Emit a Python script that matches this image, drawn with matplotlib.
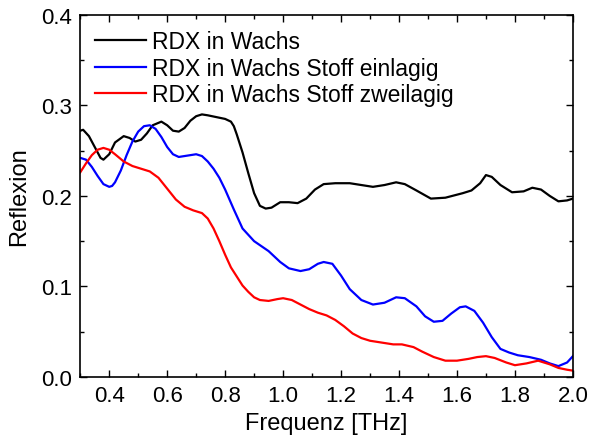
import matplotlib
matplotlib.use('Agg')
import matplotlib.pyplot as plt
from matplotlib.ticker import MultipleLocator, FormatStrFormatter

plt.rcParams['font.family'] = ['Liberation Sans', 'DejaVu Sans']

# reflection spectra, frequency in THz
freq_wachs = [0.30, 0.31, 0.33, 0.35, 0.37, 0.38, 0.40, 0.42, 0.45, 0.47, 0.49, 0.51, 0.53,
              0.55, 0.58, 0.60, 0.62, 0.64, 0.66, 0.68, 0.70, 0.72, 0.74, 0.77, 0.80, 0.82,
              0.83, 0.84, 0.86, 0.88, 0.90, 0.92, 0.94, 0.96, 0.99, 1.02, 1.05, 1.08, 1.11,
              1.14, 1.18, 1.23, 1.27, 1.31, 1.35, 1.39, 1.42, 1.46, 1.51, 1.56, 1.62, 1.65,
              1.68, 1.70, 1.72, 1.75, 1.79, 1.83, 1.86, 1.89, 1.92, 1.95, 1.98, 2.00]
refl_wachs = [0.272, 0.273, 0.266, 0.254, 0.242, 0.240, 0.246, 0.259, 0.266, 0.264, 0.260,
              0.262, 0.269, 0.278, 0.282, 0.278, 0.272, 0.271, 0.275, 0.283, 0.288, 0.290,
              0.289, 0.287, 0.285, 0.282, 0.277, 0.268, 0.248, 0.225, 0.203, 0.189, 0.186,
              0.187, 0.193, 0.193, 0.192, 0.197, 0.207, 0.213, 0.214, 0.214, 0.212, 0.210,
              0.212, 0.215, 0.213, 0.206, 0.197, 0.198, 0.203, 0.206, 0.214, 0.223, 0.221,
              0.212, 0.204, 0.205, 0.209, 0.207, 0.200, 0.194, 0.195, 0.197]

freq_einlagig = [0.30, 0.32, 0.34, 0.36, 0.38, 0.40, 0.41, 0.42, 0.44, 0.46, 0.48, 0.50, 0.52,
                 0.54, 0.56, 0.58, 0.60, 0.62, 0.64, 0.66, 0.68, 0.70, 0.72, 0.74, 0.76,
                 0.78, 0.80, 0.83, 0.86, 0.90, 0.95, 0.99, 1.02, 1.06, 1.09, 1.12, 1.14,
                 1.17, 1.20, 1.23, 1.27, 1.31, 1.35, 1.39, 1.42, 1.46, 1.49, 1.52, 1.55,
                 1.58, 1.61, 1.63, 1.66, 1.69, 1.72, 1.75, 1.78, 1.81, 1.85, 1.89, 1.92,
                 1.95, 1.98, 2.00]
refl_einlagig = [0.242, 0.240, 0.232, 0.222, 0.213, 0.210, 0.211, 0.215, 0.228, 0.245, 0.260,
                 0.271, 0.277, 0.278, 0.274, 0.265, 0.254, 0.246, 0.243, 0.244, 0.245, 0.246,
                 0.244, 0.238, 0.230, 0.220, 0.207, 0.185, 0.164, 0.150, 0.139, 0.127, 0.120,
                 0.117, 0.119, 0.125, 0.127, 0.125, 0.112, 0.097, 0.085, 0.080, 0.082, 0.088,
                 0.087, 0.078, 0.067, 0.061, 0.062, 0.070, 0.077, 0.078, 0.073, 0.060, 0.044,
                 0.031, 0.027, 0.024, 0.022, 0.019, 0.015, 0.012, 0.016, 0.023]

freq_zweilagig = [0.30, 0.32, 0.34, 0.36, 0.38, 0.40, 0.42, 0.45, 0.48, 0.51, 0.54, 0.57,
                  0.60, 0.63, 0.66, 0.69, 0.72, 0.74, 0.76, 0.78, 0.80, 0.82, 0.84, 0.86,
                  0.88, 0.90, 0.92, 0.95, 0.98, 1.00, 1.03, 1.06, 1.09, 1.12, 1.15, 1.18,
                  1.21, 1.24, 1.27, 1.30, 1.34, 1.38, 1.41, 1.45, 1.48, 1.52, 1.56, 1.60,
                  1.64, 1.67, 1.70, 1.73, 1.77, 1.80, 1.84, 1.88, 1.92, 1.95, 1.98, 2.00]
refl_zweilagig = [0.226, 0.236, 0.245, 0.251, 0.253, 0.251, 0.246, 0.238, 0.233, 0.230, 0.227,
                  0.220, 0.208, 0.196, 0.188, 0.184, 0.181, 0.175, 0.164, 0.150, 0.135, 0.121,
                  0.111, 0.101, 0.094, 0.088, 0.085, 0.084, 0.086, 0.087, 0.085, 0.080, 0.075,
                  0.071, 0.068, 0.063, 0.056, 0.048, 0.043, 0.040, 0.038, 0.036, 0.036, 0.033,
                  0.028, 0.022, 0.018, 0.018, 0.020, 0.022, 0.023, 0.021, 0.016, 0.013, 0.015,
                  0.018, 0.014, 0.010, 0.008, 0.007]

labels = ['RDX in Wachs', 'RDX in Wachs Stoff einlagig', 'RDX in Wachs Stoff zweilagig']

fig = plt.figure(figsize=(5.9, 4.39), dpi=100)
ax = fig.add_axes([0.136, 0.139, 0.835, 0.825])

ax.plot(freq_wachs, refl_wachs, color='black', lw=1.6, label=labels[0])
ax.plot(freq_einlagig, refl_einlagig, color='#0000ff', lw=1.6, label=labels[1])
ax.plot(freq_zweilagig, refl_zweilagig, color='#ff0000', lw=1.6, label=labels[2])

ax.set_xlim(0.3, 2.0)
ax.set_ylim(0.0, 0.4)
ax.xaxis.set_major_locator(MultipleLocator(0.2))
ax.xaxis.set_minor_locator(MultipleLocator(0.1))
ax.yaxis.set_major_locator(MultipleLocator(0.1))
ax.yaxis.set_minor_locator(MultipleLocator(0.05))
ax.xaxis.set_major_formatter(FormatStrFormatter('%.1f'))
ax.yaxis.set_major_formatter(FormatStrFormatter('%.1f'))
ax.tick_params(which='both', direction='in', top=True, right=True, width=1.0,
               labelsize=16, pad=6)
ax.tick_params(which='major', length=5)
ax.tick_params(which='minor', length=3)
for s in ax.spines.values():
    s.set_linewidth(1.2)

ax.set_xlabel('Frequenz [THz]', fontsize=17, labelpad=4)
ax.set_ylabel('Reflexion', fontsize=17, labelpad=8)

ax.legend(loc='upper left', frameon=False, fontsize=16.5, handlelength=2.2,
          handletextpad=0.3, labelspacing=0.17, borderaxespad=0.25)

fig.savefig('out.png', dpi=100)
